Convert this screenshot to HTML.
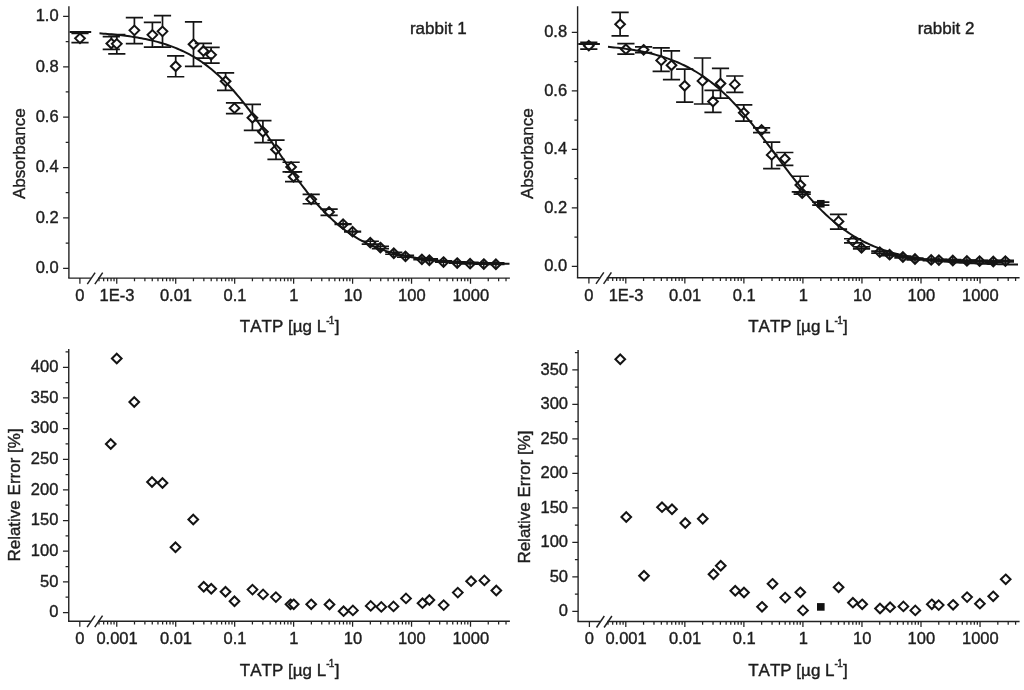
<!DOCTYPE html>
<html><head><meta charset="utf-8"><title>TATP ELISA calibration</title>
<style>
html,body{margin:0;padding:0;background:#fff;}
body{width:1024px;height:690px;overflow:hidden;}
svg{display:block;}
svg text{font-family:"Liberation Sans", sans-serif;fill:#1e1e1e;font-kerning:none;stroke:#1e1e1e;stroke-width:0.4px;}
#blur{filter:blur(0.5px);}
</style></head>
<body>
<svg width="1024" height="690" viewBox="0 0 1024 690">
<rect width="1024" height="690" fill="#fff"/>
<g id="blur">
<!-- panel 1 -->
<path d="M68.90 6.30V278.10" stroke="#222" stroke-width="1.4" fill="none"/>
<path d="M68.20 278.10H90.90M98.10 278.10H509.90" stroke="#222" stroke-width="1.4" fill="none"/>
<path d="M87.30 284.10L95.10 272.60" stroke="#222" stroke-width="1.5" fill="none"/>
<path d="M94.90 284.10L102.70 272.60" stroke="#222" stroke-width="1.5" fill="none"/>
<path d="M63.10 268.30H68.90M63.10 217.92H68.90M63.10 167.54H68.90M63.10 117.16H68.90M63.10 66.78H68.90M63.10 16.40H68.90M65.70 243.11H68.90M65.70 192.73H68.90M65.70 142.35H68.90M65.70 91.97H68.90M65.70 41.59H68.90M79.90 278.10v5.6M99.00 278.10v3.2M103.67 278.10v3.2M107.62 278.10v3.2M111.04 278.10v3.2M114.05 278.10v3.2M116.75 278.10v5.6M134.50 278.10v3.2M144.88 278.10v3.2M152.25 278.10v3.2M157.96 278.10v3.2M162.63 278.10v3.2M166.58 278.10v3.2M170.00 278.10v3.2M173.01 278.10v3.2M175.71 278.10v5.6M193.46 278.10v3.2M203.84 278.10v3.2M211.21 278.10v3.2M216.92 278.10v3.2M221.59 278.10v3.2M225.54 278.10v3.2M228.96 278.10v3.2M231.97 278.10v3.2M234.67 278.10v5.6M252.42 278.10v3.2M262.80 278.10v3.2M270.17 278.10v3.2M275.88 278.10v3.2M280.55 278.10v3.2M284.50 278.10v3.2M287.92 278.10v3.2M290.93 278.10v3.2M293.63 278.10v5.6M311.38 278.10v3.2M321.76 278.10v3.2M329.13 278.10v3.2M334.84 278.10v3.2M339.51 278.10v3.2M343.46 278.10v3.2M346.88 278.10v3.2M349.89 278.10v3.2M352.59 278.10v5.6M370.34 278.10v3.2M380.72 278.10v3.2M388.09 278.10v3.2M393.80 278.10v3.2M398.47 278.10v3.2M402.42 278.10v3.2M405.84 278.10v3.2M408.85 278.10v3.2M411.55 278.10v5.6M429.30 278.10v3.2M439.68 278.10v3.2M447.05 278.10v3.2M452.76 278.10v3.2M457.43 278.10v3.2M461.38 278.10v3.2M464.80 278.10v3.2M467.81 278.10v3.2M470.51 278.10v5.6M488.26 278.10v3.2M498.64 278.10v3.2M506.01 278.10v3.2" stroke="#222" stroke-width="1.25" fill="none"/>
<text x="79.90" y="301.00" font-size="16.5" text-anchor="middle">0</text>
<text x="117.05" y="301.00" font-size="16.5" text-anchor="middle">1E-3</text>
<text x="176.01" y="301.00" font-size="16.5" text-anchor="middle">0.01</text>
<text x="234.97" y="301.00" font-size="16.5" text-anchor="middle">0.1</text>
<text x="293.93" y="301.00" font-size="16.5" text-anchor="middle">1</text>
<text x="352.89" y="301.00" font-size="16.5" text-anchor="middle">10</text>
<text x="411.85" y="301.00" font-size="16.5" text-anchor="middle">100</text>
<text x="470.81" y="301.00" font-size="16.5" text-anchor="middle">1000</text>
<text x="58.60" y="273.10" font-size="16.5" text-anchor="end">0.0</text>
<text x="58.60" y="222.72" font-size="16.5" text-anchor="end">0.2</text>
<text x="58.60" y="172.34" font-size="16.5" text-anchor="end">0.4</text>
<text x="58.60" y="121.96" font-size="16.5" text-anchor="end">0.6</text>
<text x="58.60" y="71.58" font-size="16.5" text-anchor="end">0.8</text>
<text x="58.60" y="21.20" font-size="16.5" text-anchor="end">1.0</text>
<text x="24.80" y="153.70" font-size="17" text-anchor="middle" transform="rotate(-90 24.80 153.70)">Absorbance</text>
<text x="289.60" y="332.35" font-size="17" text-anchor="middle">TATP [µg L<tspan font-size="10" dy="-8.6" letter-spacing="-0.6">-1</tspan><tspan dy="8.6" dx="0.8">]</tspan></text>
<text x="438.30" y="34.30" font-size="17" text-anchor="middle">rabbit 1</text>
<path d="M80.00 33.45V42.65" fill="none" stroke="#141414" stroke-width="1.7"/>
<path d="M111.30 36.65V49.35" fill="none" stroke="#141414" stroke-width="1.7"/>
<path d="M116.80 34.65V53.85" fill="none" stroke="#141414" stroke-width="1.7"/>
<path d="M134.40 17.65V43.55" fill="none" stroke="#141414" stroke-width="1.7"/>
<path d="M152.40 22.35V47.05" fill="none" stroke="#141414" stroke-width="1.7"/>
<path d="M162.50 15.55V47.05" fill="none" stroke="#141414" stroke-width="1.7"/>
<path d="M175.70 55.85V76.75" fill="none" stroke="#141414" stroke-width="1.7"/>
<path d="M193.50 21.95V66.35" fill="none" stroke="#141414" stroke-width="1.7"/>
<path d="M203.40 43.45V58.15" fill="none" stroke="#141414" stroke-width="1.7"/>
<path d="M211.10 47.45V63.05" fill="none" stroke="#141414" stroke-width="1.7"/>
<path d="M225.60 72.85V90.45" fill="none" stroke="#141414" stroke-width="1.7"/>
<path d="M234.50 102.85V113.65" fill="none" stroke="#141414" stroke-width="1.7"/>
<path d="M252.40 104.35V130.45" fill="none" stroke="#141414" stroke-width="1.7"/>
<path d="M262.90 120.55V142.65" fill="none" stroke="#141414" stroke-width="1.7"/>
<path d="M276.00 140.15V159.35" fill="none" stroke="#141414" stroke-width="1.7"/>
<path d="M291.10 162.25V171.85" fill="none" stroke="#141414" stroke-width="1.7"/>
<path d="M293.60 171.85V181.65" fill="none" stroke="#141414" stroke-width="1.7"/>
<path d="M311.20 194.35V203.75" fill="none" stroke="#141414" stroke-width="1.7"/>
<path d="M329.10 209.15V215.35" fill="none" stroke="#141414" stroke-width="1.7"/>
<path d="M343.10 223.85V224.45" fill="none" stroke="#141414" stroke-width="1.7"/>
<path d="M352.60 231.35V231.95" fill="none" stroke="#141414" stroke-width="1.7"/>
<path d="M370.30 241.25V244.05" fill="none" stroke="#141414" stroke-width="1.7"/>
<path d="M380.40 246.35V248.75" fill="none" stroke="#141414" stroke-width="1.7"/>
<path d="M393.80 252.25V254.25" fill="none" stroke="#141414" stroke-width="1.7"/>
<path d="M405.50 255.45V257.25" fill="none" stroke="#141414" stroke-width="1.7"/>
<path d="M421.90 258.15V259.75" fill="none" stroke="#141414" stroke-width="1.7"/>
<path d="M429.40 258.95V260.55" fill="none" stroke="#141414" stroke-width="1.7"/>
<path d="M443.50 260.75V262.25" fill="none" stroke="#141414" stroke-width="1.7"/>
<path d="M457.20 261.75V263.25" fill="none" stroke="#141414" stroke-width="1.7"/>
<path d="M470.10 262.35V263.85" fill="none" stroke="#141414" stroke-width="1.7"/>
<path d="M483.80 262.75V264.25" fill="none" stroke="#141414" stroke-width="1.7"/>
<path d="M495.90 262.95V264.45" fill="none" stroke="#141414" stroke-width="1.7"/>
<path d="M80.00 33.60L84.85 38.35L80.00 43.10L75.15 38.35Z" fill="#fff" stroke="#141414" stroke-width="2.0" stroke-linejoin="miter"/>
<path d="M111.30 38.80L116.15 43.55L111.30 48.30L106.45 43.55Z" fill="#fff" stroke="#141414" stroke-width="2.0" stroke-linejoin="miter"/>
<path d="M116.80 39.10L121.65 43.85L116.80 48.60L111.95 43.85Z" fill="#fff" stroke="#141414" stroke-width="2.0" stroke-linejoin="miter"/>
<path d="M134.40 25.60L139.25 30.35L134.40 35.10L129.55 30.35Z" fill="#fff" stroke="#141414" stroke-width="2.0" stroke-linejoin="miter"/>
<path d="M152.40 30.10L157.25 34.85L152.40 39.60L147.55 34.85Z" fill="#fff" stroke="#141414" stroke-width="2.0" stroke-linejoin="miter"/>
<path d="M162.50 26.60L167.35 31.35L162.50 36.10L157.65 31.35Z" fill="#fff" stroke="#141414" stroke-width="2.0" stroke-linejoin="miter"/>
<path d="M175.70 61.50L180.55 66.25L175.70 71.00L170.85 66.25Z" fill="#fff" stroke="#141414" stroke-width="2.0" stroke-linejoin="miter"/>
<path d="M193.50 39.50L198.35 44.25L193.50 49.00L188.65 44.25Z" fill="#fff" stroke="#141414" stroke-width="2.0" stroke-linejoin="miter"/>
<path d="M203.40 46.20L208.25 50.95L203.40 55.70L198.55 50.95Z" fill="#fff" stroke="#141414" stroke-width="2.0" stroke-linejoin="miter"/>
<path d="M211.10 50.10L215.95 54.85L211.10 59.60L206.25 54.85Z" fill="#fff" stroke="#141414" stroke-width="2.0" stroke-linejoin="miter"/>
<path d="M225.60 76.50L230.45 81.25L225.60 86.00L220.75 81.25Z" fill="#fff" stroke="#141414" stroke-width="2.0" stroke-linejoin="miter"/>
<path d="M234.50 103.40L239.35 108.15L234.50 112.90L229.65 108.15Z" fill="#fff" stroke="#141414" stroke-width="2.0" stroke-linejoin="miter"/>
<path d="M252.40 113.00L257.25 117.75L252.40 122.50L247.55 117.75Z" fill="#fff" stroke="#141414" stroke-width="2.0" stroke-linejoin="miter"/>
<path d="M262.90 127.00L267.75 131.75L262.90 136.50L258.05 131.75Z" fill="#fff" stroke="#141414" stroke-width="2.0" stroke-linejoin="miter"/>
<path d="M276.00 144.80L280.85 149.55L276.00 154.30L271.15 149.55Z" fill="#fff" stroke="#141414" stroke-width="2.0" stroke-linejoin="miter"/>
<path d="M291.10 162.20L295.95 166.95L291.10 171.70L286.25 166.95Z" fill="#fff" stroke="#141414" stroke-width="2.0" stroke-linejoin="miter"/>
<path d="M293.60 172.00L298.45 176.75L293.60 181.50L288.75 176.75Z" fill="#fff" stroke="#141414" stroke-width="2.0" stroke-linejoin="miter"/>
<path d="M311.20 194.50L316.05 199.25L311.20 204.00L306.35 199.25Z" fill="#fff" stroke="#141414" stroke-width="2.0" stroke-linejoin="miter"/>
<path d="M329.10 207.20L333.95 211.95L329.10 216.70L324.25 211.95Z" fill="#fff" stroke="#141414" stroke-width="2.0" stroke-linejoin="miter"/>
<path d="M343.10 219.40L347.95 224.15L343.10 228.90L338.25 224.15Z" fill="#fff" stroke="#141414" stroke-width="2.0" stroke-linejoin="miter"/>
<path d="M352.60 226.90L357.45 231.65L352.60 236.40L347.75 231.65Z" fill="#fff" stroke="#141414" stroke-width="2.0" stroke-linejoin="miter"/>
<path d="M370.30 237.90L375.15 242.65L370.30 247.40L365.45 242.65Z" fill="#fff" stroke="#141414" stroke-width="2.0" stroke-linejoin="miter"/>
<path d="M380.40 242.80L385.25 247.55L380.40 252.30L375.55 247.55Z" fill="#fff" stroke="#141414" stroke-width="2.0" stroke-linejoin="miter"/>
<path d="M393.80 248.50L398.65 253.25L393.80 258.00L388.95 253.25Z" fill="#fff" stroke="#141414" stroke-width="2.0" stroke-linejoin="miter"/>
<path d="M405.50 251.60L410.35 256.35L405.50 261.10L400.65 256.35Z" fill="#fff" stroke="#141414" stroke-width="2.0" stroke-linejoin="miter"/>
<path d="M421.90 254.60L426.75 259.35L421.90 264.10L417.05 259.35Z" fill="#fff" stroke="#141414" stroke-width="2.0" stroke-linejoin="miter"/>
<path d="M429.40 255.50L434.25 260.25L429.40 265.00L424.55 260.25Z" fill="#fff" stroke="#141414" stroke-width="2.0" stroke-linejoin="miter"/>
<path d="M443.50 257.30L448.35 262.05L443.50 266.80L438.65 262.05Z" fill="#fff" stroke="#141414" stroke-width="2.0" stroke-linejoin="miter"/>
<path d="M457.20 258.30L462.05 263.05L457.20 267.80L452.35 263.05Z" fill="#fff" stroke="#141414" stroke-width="2.0" stroke-linejoin="miter"/>
<path d="M470.10 258.90L474.95 263.65L470.10 268.40L465.25 263.65Z" fill="#fff" stroke="#141414" stroke-width="2.0" stroke-linejoin="miter"/>
<path d="M483.80 259.30L488.65 264.05L483.80 268.80L478.95 264.05Z" fill="#fff" stroke="#141414" stroke-width="2.0" stroke-linejoin="miter"/>
<path d="M495.90 259.50L500.75 264.25L495.90 269.00L491.05 264.25Z" fill="#fff" stroke="#141414" stroke-width="2.0" stroke-linejoin="miter"/>
<path d="M71.40 33.45H88.60M71.40 42.65H88.60" fill="none" stroke="#141414" stroke-width="1.7"/>
<path d="M102.70 36.65H119.90M102.70 49.35H119.90" fill="none" stroke="#141414" stroke-width="1.7"/>
<path d="M108.20 34.65H125.40M108.20 53.85H125.40" fill="none" stroke="#141414" stroke-width="1.7"/>
<path d="M125.80 17.65H143.00M125.80 43.55H143.00" fill="none" stroke="#141414" stroke-width="1.7"/>
<path d="M143.80 22.35H161.00M143.80 47.05H161.00" fill="none" stroke="#141414" stroke-width="1.7"/>
<path d="M153.90 15.55H171.10M153.90 47.05H171.10" fill="none" stroke="#141414" stroke-width="1.7"/>
<path d="M167.10 55.85H184.30M167.10 76.75H184.30" fill="none" stroke="#141414" stroke-width="1.7"/>
<path d="M184.90 21.95H202.10M184.90 66.35H202.10" fill="none" stroke="#141414" stroke-width="1.7"/>
<path d="M194.80 43.45H212.00M194.80 58.15H212.00" fill="none" stroke="#141414" stroke-width="1.7"/>
<path d="M202.50 47.45H219.70M202.50 63.05H219.70" fill="none" stroke="#141414" stroke-width="1.7"/>
<path d="M217.00 72.85H234.20M217.00 90.45H234.20" fill="none" stroke="#141414" stroke-width="1.7"/>
<path d="M225.90 102.85H243.10M225.90 113.65H243.10" fill="none" stroke="#141414" stroke-width="1.7"/>
<path d="M243.80 104.35H261.00M243.80 130.45H261.00" fill="none" stroke="#141414" stroke-width="1.7"/>
<path d="M254.30 120.55H271.50M254.30 142.65H271.50" fill="none" stroke="#141414" stroke-width="1.7"/>
<path d="M267.40 140.15H284.60M267.40 159.35H284.60" fill="none" stroke="#141414" stroke-width="1.7"/>
<path d="M282.50 162.25H299.70M282.50 171.85H299.70" fill="none" stroke="#141414" stroke-width="1.7"/>
<path d="M285.00 171.85H302.20M285.00 181.65H302.20" fill="none" stroke="#141414" stroke-width="1.7"/>
<path d="M302.60 194.35H319.80M302.60 203.75H319.80" fill="none" stroke="#141414" stroke-width="1.7"/>
<path d="M320.50 209.15H337.70M320.50 215.35H337.70" fill="none" stroke="#141414" stroke-width="1.7"/>
<path d="M334.50 223.85H351.70M334.50 224.45H351.70" fill="none" stroke="#141414" stroke-width="1.7"/>
<path d="M343.10 219.45V228.85" fill="none" stroke="#141414" stroke-width="1.5"/>
<path d="M344.00 231.35H361.20M344.00 231.95H361.20" fill="none" stroke="#141414" stroke-width="1.7"/>
<path d="M352.60 226.95V236.35" fill="none" stroke="#141414" stroke-width="1.5"/>
<path d="M361.70 241.25H378.90M361.70 244.05H378.90" fill="none" stroke="#141414" stroke-width="1.7"/>
<path d="M370.30 237.95V247.35" fill="none" stroke="#141414" stroke-width="1.5"/>
<path d="M371.80 246.35H389.00M371.80 248.75H389.00" fill="none" stroke="#141414" stroke-width="1.7"/>
<path d="M380.40 242.85V252.25" fill="none" stroke="#141414" stroke-width="1.5"/>
<path d="M385.20 252.25H402.40M385.20 254.25H402.40" fill="none" stroke="#141414" stroke-width="1.7"/>
<path d="M393.80 248.55V257.95" fill="none" stroke="#141414" stroke-width="1.5"/>
<path d="M396.90 255.45H414.10M396.90 257.25H414.10" fill="none" stroke="#141414" stroke-width="1.7"/>
<path d="M405.50 251.65V261.05" fill="none" stroke="#141414" stroke-width="1.5"/>
<path d="M413.30 258.15H430.50M413.30 259.75H430.50" fill="none" stroke="#141414" stroke-width="1.7"/>
<path d="M421.90 254.65V264.05" fill="none" stroke="#141414" stroke-width="1.5"/>
<path d="M420.80 258.95H438.00M420.80 260.55H438.00" fill="none" stroke="#141414" stroke-width="1.7"/>
<path d="M429.40 255.55V264.95" fill="none" stroke="#141414" stroke-width="1.5"/>
<path d="M434.90 260.75H452.10M434.90 262.25H452.10" fill="none" stroke="#141414" stroke-width="1.7"/>
<path d="M443.50 257.35V266.75" fill="none" stroke="#141414" stroke-width="1.5"/>
<path d="M448.60 261.75H465.80M448.60 263.25H465.80" fill="none" stroke="#141414" stroke-width="1.7"/>
<path d="M457.20 258.35V267.75" fill="none" stroke="#141414" stroke-width="1.5"/>
<path d="M461.50 262.35H478.70M461.50 263.85H478.70" fill="none" stroke="#141414" stroke-width="1.7"/>
<path d="M470.10 258.95V268.35" fill="none" stroke="#141414" stroke-width="1.5"/>
<path d="M475.20 262.75H492.40M475.20 264.25H492.40" fill="none" stroke="#141414" stroke-width="1.7"/>
<path d="M483.80 259.35V268.75" fill="none" stroke="#141414" stroke-width="1.5"/>
<path d="M487.30 262.95H504.50M487.30 264.45H504.50" fill="none" stroke="#141414" stroke-width="1.7"/>
<path d="M495.90 259.55V268.95" fill="none" stroke="#141414" stroke-width="1.5"/>
<path d="M99.50 33.37L101.50 33.51L103.50 33.65L105.50 33.80L107.50 33.96L109.50 34.13L111.50 34.31L113.50 34.49L115.50 34.68L117.50 34.89L119.50 35.10L121.50 35.33L123.50 35.56L125.50 35.81L127.50 36.07L129.50 36.34L131.50 36.63L133.50 36.93L135.50 37.24L137.50 37.57L139.50 37.92L141.50 38.28L143.50 38.66L145.50 39.06L147.50 39.48L149.50 39.92L151.50 40.38L153.50 40.86L155.50 41.37L157.50 41.90L159.50 42.45L161.50 43.03L163.50 43.63L165.50 44.27L167.50 44.93L169.50 45.62L171.50 46.35L173.50 47.10L175.50 47.89L177.50 48.72L179.50 49.58L181.50 50.48L183.50 51.41L185.50 52.39L187.50 53.41L189.50 54.47L191.50 55.57L193.50 56.72L195.50 57.92L197.50 59.16L199.50 60.45L201.50 61.79L203.50 63.18L205.50 64.63L207.50 66.12L209.50 67.67L211.50 69.28L213.50 70.94L215.50 72.66L217.50 74.43L219.50 76.26L221.50 78.15L223.50 80.09L225.50 82.09L227.50 84.16L229.50 86.27L231.50 88.45L233.50 90.68L235.50 92.97L237.50 95.31L239.50 97.70L241.50 100.15L243.50 102.65L245.50 105.20L247.50 107.79L249.50 110.43L251.50 113.12L253.50 115.84L255.50 118.60L257.50 121.40L259.50 124.22L261.50 127.08L263.50 129.96L265.50 132.87L267.50 135.79L269.50 138.73L271.50 141.68L273.50 144.63L275.50 147.59L277.50 150.55L279.50 153.51L281.50 156.46L283.50 159.39L285.50 162.31L287.50 165.22L289.50 168.10L291.50 170.95L293.50 173.78L295.50 176.58L297.50 179.34L299.50 182.06L301.50 184.74L303.50 187.38L305.50 189.97L307.50 192.52L309.50 195.01L311.50 197.46L313.50 199.85L315.50 202.19L317.50 204.48L319.50 206.71L321.50 208.88L323.50 211.00L325.50 213.06L327.50 215.06L329.50 217.00L331.50 218.88L333.50 220.71L335.50 222.48L337.50 224.20L339.50 225.86L341.50 227.46L343.50 229.01L345.50 230.50L347.50 231.94L349.50 233.33L351.50 234.67L353.50 235.96L355.50 237.20L357.50 238.40L359.50 239.54L361.50 240.65L363.50 241.71L365.50 242.72L367.50 243.70L369.50 244.63L371.50 245.53L373.50 246.39L375.50 247.21L377.50 248.00L379.50 248.76L381.50 249.48L383.50 250.17L385.50 250.83L387.50 251.47L389.50 252.07L391.50 252.65L393.50 253.20L395.50 253.73L397.50 254.23L399.50 254.71L401.50 255.17L403.50 255.61L405.50 256.03L407.50 256.43L409.50 256.81L411.50 257.17L413.50 257.52L415.50 257.85L417.50 258.16L419.50 258.46L421.50 258.75L423.50 259.02L425.50 259.28L427.50 259.52L429.50 259.76L431.50 259.98L433.50 260.20L435.50 260.40L437.50 260.59L439.50 260.78L441.50 260.95L443.50 261.12L445.50 261.28L447.50 261.43L449.50 261.58L451.50 261.71L453.50 261.84L455.50 261.97L457.50 262.09L459.50 262.20L461.50 262.31L463.50 262.41L465.50 262.50L467.50 262.60L469.50 262.68L471.50 262.77L473.50 262.85L475.50 262.92L477.50 262.99L479.50 263.06L481.50 263.13L483.50 263.19L485.50 263.25L487.50 263.30L489.50 263.36L491.50 263.41L493.50 263.46L495.50 263.50L497.50 263.54L499.50 263.59L501.50 263.62L503.50 263.66L505.50 263.70L507.50 263.73L509.50 263.76M69.60 31.90H91.20" fill="none" stroke="#141414" stroke-width="2" stroke-linecap="butt" stroke-linejoin="round"/>
<!-- panel 2 -->
<path d="M577.60 6.30V277.80" stroke="#222" stroke-width="1.4" fill="none"/>
<path d="M576.90 277.80H599.60M606.80 277.80H1019.60" stroke="#222" stroke-width="1.4" fill="none"/>
<path d="M596.00 283.80L603.80 272.30" stroke="#222" stroke-width="1.5" fill="none"/>
<path d="M603.60 283.80L611.40 272.30" stroke="#222" stroke-width="1.5" fill="none"/>
<path d="M571.80 266.40H577.60M571.80 207.90H577.60M571.80 149.40H577.60M571.80 90.90H577.60M571.80 32.40H577.60M574.40 237.15H577.60M574.40 178.65H577.60M574.40 120.15H577.60M574.40 61.65H577.60M588.90 277.80v5.6M608.03 277.80v3.2M612.70 277.80v3.2M616.65 277.80v3.2M620.08 277.80v3.2M623.10 277.80v3.2M625.80 277.80v5.6M643.57 277.80v3.2M653.97 277.80v3.2M661.35 277.80v3.2M667.07 277.80v3.2M671.74 277.80v3.2M675.69 277.80v3.2M679.12 277.80v3.2M682.14 277.80v3.2M684.84 277.80v5.6M702.61 277.80v3.2M713.01 277.80v3.2M720.39 277.80v3.2M726.11 277.80v3.2M730.78 277.80v3.2M734.73 277.80v3.2M738.16 277.80v3.2M741.18 277.80v3.2M743.88 277.80v5.6M761.65 277.80v3.2M772.05 277.80v3.2M779.43 277.80v3.2M785.15 277.80v3.2M789.82 277.80v3.2M793.77 277.80v3.2M797.20 277.80v3.2M800.22 277.80v3.2M802.92 277.80v5.6M820.69 277.80v3.2M831.09 277.80v3.2M838.47 277.80v3.2M844.19 277.80v3.2M848.86 277.80v3.2M852.81 277.80v3.2M856.24 277.80v3.2M859.26 277.80v3.2M861.96 277.80v5.6M879.73 277.80v3.2M890.13 277.80v3.2M897.51 277.80v3.2M903.23 277.80v3.2M907.90 277.80v3.2M911.85 277.80v3.2M915.28 277.80v3.2M918.30 277.80v3.2M921.00 277.80v5.6M938.77 277.80v3.2M949.17 277.80v3.2M956.55 277.80v3.2M962.27 277.80v3.2M966.94 277.80v3.2M970.89 277.80v3.2M974.32 277.80v3.2M977.34 277.80v3.2M980.04 277.80v5.6M997.81 277.80v3.2M1008.21 277.80v3.2M1015.59 277.80v3.2" stroke="#222" stroke-width="1.25" fill="none"/>
<text x="588.90" y="300.70" font-size="16.5" text-anchor="middle">0</text>
<text x="626.10" y="300.70" font-size="16.5" text-anchor="middle">1E-3</text>
<text x="685.14" y="300.70" font-size="16.5" text-anchor="middle">0.01</text>
<text x="744.18" y="300.70" font-size="16.5" text-anchor="middle">0.1</text>
<text x="803.22" y="300.70" font-size="16.5" text-anchor="middle">1</text>
<text x="862.26" y="300.70" font-size="16.5" text-anchor="middle">10</text>
<text x="921.30" y="300.70" font-size="16.5" text-anchor="middle">100</text>
<text x="980.34" y="300.70" font-size="16.5" text-anchor="middle">1000</text>
<text x="567.10" y="271.20" font-size="16.5" text-anchor="end">0.0</text>
<text x="567.10" y="212.70" font-size="16.5" text-anchor="end">0.2</text>
<text x="567.10" y="154.20" font-size="16.5" text-anchor="end">0.4</text>
<text x="567.10" y="95.70" font-size="16.5" text-anchor="end">0.6</text>
<text x="567.10" y="37.20" font-size="16.5" text-anchor="end">0.8</text>
<text x="533.40" y="153.70" font-size="17" text-anchor="middle" transform="rotate(-90 533.40 153.70)">Absorbance</text>
<text x="798.00" y="332.35" font-size="17" text-anchor="middle">TATP [µg L<tspan font-size="10" dy="-8.6" letter-spacing="-0.6">-1</tspan><tspan dy="8.6" dx="0.8">]</tspan></text>
<text x="946.00" y="34.30" font-size="17" text-anchor="middle">rabbit 2</text>
<path d="M588.80 42.40V49.20" fill="none" stroke="#141414" stroke-width="1.7"/>
<path d="M620.10 12.40V35.90" fill="none" stroke="#141414" stroke-width="1.7"/>
<path d="M625.90 43.70V54.10" fill="none" stroke="#141414" stroke-width="1.7"/>
<path d="M643.60 46.90V52.70" fill="none" stroke="#141414" stroke-width="1.7"/>
<path d="M661.20 47.90V71.30" fill="none" stroke="#141414" stroke-width="1.7"/>
<path d="M671.50 50.80V79.60" fill="none" stroke="#141414" stroke-width="1.7"/>
<path d="M684.70 69.20V102.10" fill="none" stroke="#141414" stroke-width="1.7"/>
<path d="M702.50 58.00V104.00" fill="none" stroke="#141414" stroke-width="1.7"/>
<path d="M713.00 90.30V112.40" fill="none" stroke="#141414" stroke-width="1.7"/>
<path d="M720.50 68.40V98.10" fill="none" stroke="#141414" stroke-width="1.7"/>
<path d="M734.80 76.00V92.30" fill="none" stroke="#141414" stroke-width="1.7"/>
<path d="M743.75 104.90V121.10" fill="none" stroke="#141414" stroke-width="1.7"/>
<path d="M761.60 127.90V132.60" fill="none" stroke="#141414" stroke-width="1.7"/>
<path d="M771.70 142.20V168.60" fill="none" stroke="#141414" stroke-width="1.7"/>
<path d="M784.80 152.50V165.30" fill="none" stroke="#141414" stroke-width="1.7"/>
<path d="M800.30 176.25V191.90" fill="none" stroke="#141414" stroke-width="1.7"/>
<path d="M802.20 192.20V194.20" fill="none" stroke="#141414" stroke-width="1.7"/>
<path d="M820.80 202.10V205.10" fill="none" stroke="#141414" stroke-width="1.7"/>
<path d="M838.50 214.40V229.10" fill="none" stroke="#141414" stroke-width="1.7"/>
<path d="M852.60 238.75V242.90" fill="none" stroke="#141414" stroke-width="1.7"/>
<path d="M861.50 246.80V248.90" fill="none" stroke="#141414" stroke-width="1.7"/>
<path d="M879.80 251.10V253.10" fill="none" stroke="#141414" stroke-width="1.7"/>
<path d="M889.60 253.80V255.60" fill="none" stroke="#141414" stroke-width="1.7"/>
<path d="M902.90 256.20V257.80" fill="none" stroke="#141414" stroke-width="1.7"/>
<path d="M915.00 258.20V259.80" fill="none" stroke="#141414" stroke-width="1.7"/>
<path d="M931.20 259.10V260.70" fill="none" stroke="#141414" stroke-width="1.7"/>
<path d="M938.90 259.30V260.90" fill="none" stroke="#141414" stroke-width="1.7"/>
<path d="M952.80 259.70V261.30" fill="none" stroke="#141414" stroke-width="1.7"/>
<path d="M966.90 260.10V261.70" fill="none" stroke="#141414" stroke-width="1.7"/>
<path d="M979.60 260.30V261.90" fill="none" stroke="#141414" stroke-width="1.7"/>
<path d="M993.30 260.70V262.30" fill="none" stroke="#141414" stroke-width="1.7"/>
<path d="M1005.40 260.30V261.90" fill="none" stroke="#141414" stroke-width="1.7"/>
<path d="M588.80 40.95L593.65 45.70L588.80 50.45L583.95 45.70Z" fill="#fff" stroke="#141414" stroke-width="2.0" stroke-linejoin="miter"/>
<path d="M620.10 19.45L624.95 24.20L620.10 28.95L615.25 24.20Z" fill="#fff" stroke="#141414" stroke-width="2.0" stroke-linejoin="miter"/>
<path d="M625.90 44.45L630.75 49.20L625.90 53.95L621.05 49.20Z" fill="#fff" stroke="#141414" stroke-width="2.0" stroke-linejoin="miter"/>
<path d="M643.60 45.05L648.45 49.80L643.60 54.55L638.75 49.80Z" fill="#fff" stroke="#141414" stroke-width="2.0" stroke-linejoin="miter"/>
<path d="M661.20 55.65L666.05 60.40L661.20 65.15L656.35 60.40Z" fill="#fff" stroke="#141414" stroke-width="2.0" stroke-linejoin="miter"/>
<path d="M671.50 60.55L676.35 65.30L671.50 70.05L666.65 65.30Z" fill="#fff" stroke="#141414" stroke-width="2.0" stroke-linejoin="miter"/>
<path d="M684.70 81.05L689.55 85.80L684.70 90.55L679.85 85.80Z" fill="#fff" stroke="#141414" stroke-width="2.0" stroke-linejoin="miter"/>
<path d="M702.50 76.15L707.35 80.90L702.50 85.65L697.65 80.90Z" fill="#fff" stroke="#141414" stroke-width="2.0" stroke-linejoin="miter"/>
<path d="M713.00 96.75L717.85 101.50L713.00 106.25L708.15 101.50Z" fill="#fff" stroke="#141414" stroke-width="2.0" stroke-linejoin="miter"/>
<path d="M720.50 78.75L725.35 83.50L720.50 88.25L715.65 83.50Z" fill="#fff" stroke="#141414" stroke-width="2.0" stroke-linejoin="miter"/>
<path d="M734.80 79.65L739.65 84.40L734.80 89.15L729.95 84.40Z" fill="#fff" stroke="#141414" stroke-width="2.0" stroke-linejoin="miter"/>
<path d="M743.75 108.05L748.60 112.80L743.75 117.55L738.90 112.80Z" fill="#fff" stroke="#141414" stroke-width="2.0" stroke-linejoin="miter"/>
<path d="M761.60 125.25L766.45 130.00L761.60 134.75L756.75 130.00Z" fill="#fff" stroke="#141414" stroke-width="2.0" stroke-linejoin="miter"/>
<path d="M771.70 150.15L776.55 154.90L771.70 159.65L766.85 154.90Z" fill="#fff" stroke="#141414" stroke-width="2.0" stroke-linejoin="miter"/>
<path d="M784.80 154.05L789.65 158.80L784.80 163.55L779.95 158.80Z" fill="#fff" stroke="#141414" stroke-width="2.0" stroke-linejoin="miter"/>
<path d="M800.30 180.25L805.15 185.00L800.30 189.75L795.45 185.00Z" fill="#fff" stroke="#141414" stroke-width="2.0" stroke-linejoin="miter"/>
<path d="M802.20 188.45L807.05 193.20L802.20 197.95L797.35 193.20Z" fill="#fff" stroke="#141414" stroke-width="2.0" stroke-linejoin="miter"/>
<rect x="817.00" y="199.95" width="7.6" height="7.6" fill="#111"/>
<path d="M838.50 216.65L843.35 221.40L838.50 226.15L833.65 221.40Z" fill="#fff" stroke="#141414" stroke-width="2.0" stroke-linejoin="miter"/>
<path d="M852.60 236.05L857.45 240.80L852.60 245.55L847.75 240.80Z" fill="#fff" stroke="#141414" stroke-width="2.0" stroke-linejoin="miter"/>
<path d="M861.50 243.05L866.35 247.80L861.50 252.55L856.65 247.80Z" fill="#fff" stroke="#141414" stroke-width="2.0" stroke-linejoin="miter"/>
<path d="M879.80 247.35L884.65 252.10L879.80 256.85L874.95 252.10Z" fill="#fff" stroke="#141414" stroke-width="2.0" stroke-linejoin="miter"/>
<path d="M889.60 249.95L894.45 254.70L889.60 259.45L884.75 254.70Z" fill="#fff" stroke="#141414" stroke-width="2.0" stroke-linejoin="miter"/>
<path d="M902.90 252.25L907.75 257.00L902.90 261.75L898.05 257.00Z" fill="#fff" stroke="#141414" stroke-width="2.0" stroke-linejoin="miter"/>
<path d="M915.00 254.25L919.85 259.00L915.00 263.75L910.15 259.00Z" fill="#fff" stroke="#141414" stroke-width="2.0" stroke-linejoin="miter"/>
<path d="M931.20 255.15L936.05 259.90L931.20 264.65L926.35 259.90Z" fill="#fff" stroke="#141414" stroke-width="2.0" stroke-linejoin="miter"/>
<path d="M938.90 255.35L943.75 260.10L938.90 264.85L934.05 260.10Z" fill="#fff" stroke="#141414" stroke-width="2.0" stroke-linejoin="miter"/>
<path d="M952.80 255.75L957.65 260.50L952.80 265.25L947.95 260.50Z" fill="#fff" stroke="#141414" stroke-width="2.0" stroke-linejoin="miter"/>
<path d="M966.90 256.15L971.75 260.90L966.90 265.65L962.05 260.90Z" fill="#fff" stroke="#141414" stroke-width="2.0" stroke-linejoin="miter"/>
<path d="M979.60 256.35L984.45 261.10L979.60 265.85L974.75 261.10Z" fill="#fff" stroke="#141414" stroke-width="2.0" stroke-linejoin="miter"/>
<path d="M993.30 256.75L998.15 261.50L993.30 266.25L988.45 261.50Z" fill="#fff" stroke="#141414" stroke-width="2.0" stroke-linejoin="miter"/>
<path d="M1005.40 256.35L1010.25 261.10L1005.40 265.85L1000.55 261.10Z" fill="#fff" stroke="#141414" stroke-width="2.0" stroke-linejoin="miter"/>
<path d="M580.20 42.40H597.40M580.20 49.20H597.40" fill="none" stroke="#141414" stroke-width="1.7"/>
<path d="M611.50 12.40H628.70M611.50 35.90H628.70" fill="none" stroke="#141414" stroke-width="1.7"/>
<path d="M617.30 43.70H634.50M617.30 54.10H634.50" fill="none" stroke="#141414" stroke-width="1.7"/>
<path d="M635.00 46.90H652.20M635.00 52.70H652.20" fill="none" stroke="#141414" stroke-width="1.7"/>
<path d="M652.60 47.90H669.80M652.60 71.30H669.80" fill="none" stroke="#141414" stroke-width="1.7"/>
<path d="M662.90 50.80H680.10M662.90 79.60H680.10" fill="none" stroke="#141414" stroke-width="1.7"/>
<path d="M676.10 69.20H693.30M676.10 102.10H693.30" fill="none" stroke="#141414" stroke-width="1.7"/>
<path d="M693.90 58.00H711.10M693.90 104.00H711.10" fill="none" stroke="#141414" stroke-width="1.7"/>
<path d="M704.40 90.30H721.60M704.40 112.40H721.60" fill="none" stroke="#141414" stroke-width="1.7"/>
<path d="M711.90 68.40H729.10M711.90 98.10H729.10" fill="none" stroke="#141414" stroke-width="1.7"/>
<path d="M726.20 76.00H743.40M726.20 92.30H743.40" fill="none" stroke="#141414" stroke-width="1.7"/>
<path d="M735.15 104.90H752.35M735.15 121.10H752.35" fill="none" stroke="#141414" stroke-width="1.7"/>
<path d="M753.00 127.90H770.20M753.00 132.60H770.20" fill="none" stroke="#141414" stroke-width="1.7"/>
<path d="M763.10 142.20H780.30M763.10 168.60H780.30" fill="none" stroke="#141414" stroke-width="1.7"/>
<path d="M776.20 152.50H793.40M776.20 165.30H793.40" fill="none" stroke="#141414" stroke-width="1.7"/>
<path d="M791.70 176.25H808.90M791.70 191.90H808.90" fill="none" stroke="#141414" stroke-width="1.7"/>
<path d="M793.60 192.20H810.80M793.60 194.20H810.80" fill="none" stroke="#141414" stroke-width="1.7"/>
<path d="M802.20 188.50V197.90" fill="none" stroke="#141414" stroke-width="1.5"/>
<path d="M812.20 202.10H829.40M812.20 205.10H829.40" fill="none" stroke="#141414" stroke-width="1.7"/>
<path d="M829.90 214.40H847.10M829.90 229.10H847.10" fill="none" stroke="#141414" stroke-width="1.7"/>
<path d="M844.00 238.75H861.20M844.00 242.90H861.20" fill="none" stroke="#141414" stroke-width="1.7"/>
<path d="M852.90 246.80H870.10M852.90 248.90H870.10" fill="none" stroke="#141414" stroke-width="1.7"/>
<path d="M861.50 243.10V252.50" fill="none" stroke="#141414" stroke-width="1.5"/>
<path d="M871.20 251.10H888.40M871.20 253.10H888.40" fill="none" stroke="#141414" stroke-width="1.7"/>
<path d="M879.80 247.40V256.80" fill="none" stroke="#141414" stroke-width="1.5"/>
<path d="M881.00 253.80H898.20M881.00 255.60H898.20" fill="none" stroke="#141414" stroke-width="1.7"/>
<path d="M889.60 250.00V259.40" fill="none" stroke="#141414" stroke-width="1.5"/>
<path d="M894.30 256.20H911.50M894.30 257.80H911.50" fill="none" stroke="#141414" stroke-width="1.7"/>
<path d="M902.90 252.30V261.70" fill="none" stroke="#141414" stroke-width="1.5"/>
<path d="M906.40 258.20H923.60M906.40 259.80H923.60" fill="none" stroke="#141414" stroke-width="1.7"/>
<path d="M915.00 254.30V263.70" fill="none" stroke="#141414" stroke-width="1.5"/>
<path d="M922.60 259.10H939.80M922.60 260.70H939.80" fill="none" stroke="#141414" stroke-width="1.7"/>
<path d="M931.20 255.20V264.60" fill="none" stroke="#141414" stroke-width="1.5"/>
<path d="M930.30 259.30H947.50M930.30 260.90H947.50" fill="none" stroke="#141414" stroke-width="1.7"/>
<path d="M938.90 255.40V264.80" fill="none" stroke="#141414" stroke-width="1.5"/>
<path d="M944.20 259.70H961.40M944.20 261.30H961.40" fill="none" stroke="#141414" stroke-width="1.7"/>
<path d="M952.80 255.80V265.20" fill="none" stroke="#141414" stroke-width="1.5"/>
<path d="M958.30 260.10H975.50M958.30 261.70H975.50" fill="none" stroke="#141414" stroke-width="1.7"/>
<path d="M966.90 256.20V265.60" fill="none" stroke="#141414" stroke-width="1.5"/>
<path d="M971.00 260.30H988.20M971.00 261.90H988.20" fill="none" stroke="#141414" stroke-width="1.7"/>
<path d="M979.60 256.40V265.80" fill="none" stroke="#141414" stroke-width="1.5"/>
<path d="M984.70 260.70H1001.90M984.70 262.30H1001.90" fill="none" stroke="#141414" stroke-width="1.7"/>
<path d="M993.30 256.80V266.20" fill="none" stroke="#141414" stroke-width="1.5"/>
<path d="M996.80 260.30H1014.00M996.80 261.90H1014.00" fill="none" stroke="#141414" stroke-width="1.7"/>
<path d="M1005.40 256.40V265.80" fill="none" stroke="#141414" stroke-width="1.5"/>
<path d="M608.00 46.80L610.00 46.99L612.00 47.19L614.00 47.40L616.00 47.62L618.00 47.85L620.00 48.08L622.00 48.34L624.00 48.60L626.00 48.87L628.00 49.16L630.00 49.46L632.00 49.77L634.00 50.10L636.00 50.45L638.00 50.81L640.00 51.18L642.00 51.58L644.00 51.99L646.00 52.42L648.00 52.87L650.00 53.34L652.00 53.83L654.00 54.34L656.00 54.87L658.00 55.43L660.00 56.02L662.00 56.62L664.00 57.26L666.00 57.92L668.00 58.61L670.00 59.32L672.00 60.07L674.00 60.85L676.00 61.66L678.00 62.51L680.00 63.38L682.00 64.30L684.00 65.25L686.00 66.23L688.00 67.26L690.00 68.32L692.00 69.43L694.00 70.57L696.00 71.76L698.00 72.99L700.00 74.27L702.00 75.58L704.00 76.95L706.00 78.36L708.00 79.82L710.00 81.32L712.00 82.88L714.00 84.48L716.00 86.13L718.00 87.83L720.00 89.58L722.00 91.38L724.00 93.23L726.00 95.13L728.00 97.08L730.00 99.07L732.00 101.11L734.00 103.21L736.00 105.34L738.00 107.53L740.00 109.75L742.00 112.02L744.00 114.34L746.00 116.69L748.00 119.08L750.00 121.51L752.00 123.97L754.00 126.46L756.00 128.98L758.00 131.54L760.00 134.11L762.00 136.71L764.00 139.33L766.00 141.96L768.00 144.61L770.00 147.27L772.00 149.94L774.00 152.61L776.00 155.28L778.00 157.95L780.00 160.62L782.00 163.28L784.00 165.93L786.00 168.56L788.00 171.18L790.00 173.78L792.00 176.36L794.00 178.91L796.00 181.44L798.00 183.93L800.00 186.40L802.00 188.83L804.00 191.22L806.00 193.58L808.00 195.89L810.00 198.16L812.00 200.40L814.00 202.58L816.00 204.72L818.00 206.82L820.00 208.86L822.00 210.86L824.00 212.81L826.00 214.72L828.00 216.57L830.00 218.37L832.00 220.12L834.00 221.83L836.00 223.48L838.00 225.09L840.00 226.65L842.00 228.15L844.00 229.62L846.00 231.03L848.00 232.40L850.00 233.72L852.00 235.00L854.00 236.23L856.00 237.42L858.00 238.57L860.00 239.68L862.00 240.75L864.00 241.77L866.00 242.76L868.00 243.72L870.00 244.63L872.00 245.51L874.00 246.36L876.00 247.17L878.00 247.95L880.00 248.70L882.00 249.42L884.00 250.11L886.00 250.78L888.00 251.41L890.00 252.02L892.00 252.61L894.00 253.17L896.00 253.70L898.00 254.22L900.00 254.71L902.00 255.18L904.00 255.63L906.00 256.06L908.00 256.47L910.00 256.87L912.00 257.25L914.00 257.61L916.00 257.95L918.00 258.28L920.00 258.60L922.00 258.90L924.00 259.19L926.00 259.46L928.00 259.73L930.00 259.98L932.00 260.22L934.00 260.45L936.00 260.67L938.00 260.87L940.00 261.07L942.00 261.27L944.00 261.45L946.00 261.62L948.00 261.79L950.00 261.95L952.00 262.10L954.00 262.24L956.00 262.38L958.00 262.51L960.00 262.63L962.00 262.75L964.00 262.87L966.00 262.98L968.00 263.08L970.00 263.18L972.00 263.27L974.00 263.36L976.00 263.45L978.00 263.53L980.00 263.61L982.00 263.68L984.00 263.76L986.00 263.82L988.00 263.89L990.00 263.95L992.00 264.01L994.00 264.06L996.00 264.12L998.00 264.17L1000.00 264.22L1002.00 264.26L1004.00 264.31L1006.00 264.35L1008.00 264.39L1010.00 264.43L1012.00 264.47L1014.00 264.50L1016.00 264.53L1018.00 264.56M578.30 43.90H599.90" fill="none" stroke="#141414" stroke-width="2" stroke-linecap="butt" stroke-linejoin="round"/>
<!-- panel 3 -->
<path d="M68.75 349.00V621.20" stroke="#222" stroke-width="1.4" fill="none"/>
<path d="M68.05 621.20H90.75M97.95 621.20H509.90" stroke="#222" stroke-width="1.4" fill="none"/>
<path d="M87.15 627.20L94.95 615.70" stroke="#222" stroke-width="1.5" fill="none"/>
<path d="M94.75 627.20L102.55 615.70" stroke="#222" stroke-width="1.5" fill="none"/>
<path d="M62.95 612.50H68.75M62.95 581.85H68.75M62.95 551.20H68.75M62.95 520.55H68.75M62.95 489.90H68.75M62.95 459.25H68.75M62.95 428.60H68.75M62.95 397.95H68.75M62.95 367.30H68.75M65.55 597.17H68.75M65.55 566.52H68.75M65.55 535.88H68.75M65.55 505.23H68.75M65.55 474.57H68.75M65.55 443.93H68.75M65.55 413.27H68.75M65.55 382.62H68.75M65.55 351.98H68.75M79.80 621.20v5.6M99.00 621.20v3.2M103.67 621.20v3.2M107.62 621.20v3.2M111.04 621.20v3.2M114.05 621.20v3.2M116.75 621.20v5.6M134.50 621.20v3.2M144.88 621.20v3.2M152.25 621.20v3.2M157.96 621.20v3.2M162.63 621.20v3.2M166.58 621.20v3.2M170.00 621.20v3.2M173.01 621.20v3.2M175.71 621.20v5.6M193.46 621.20v3.2M203.84 621.20v3.2M211.21 621.20v3.2M216.92 621.20v3.2M221.59 621.20v3.2M225.54 621.20v3.2M228.96 621.20v3.2M231.97 621.20v3.2M234.67 621.20v5.6M252.42 621.20v3.2M262.80 621.20v3.2M270.17 621.20v3.2M275.88 621.20v3.2M280.55 621.20v3.2M284.50 621.20v3.2M287.92 621.20v3.2M290.93 621.20v3.2M293.63 621.20v5.6M311.38 621.20v3.2M321.76 621.20v3.2M329.13 621.20v3.2M334.84 621.20v3.2M339.51 621.20v3.2M343.46 621.20v3.2M346.88 621.20v3.2M349.89 621.20v3.2M352.59 621.20v5.6M370.34 621.20v3.2M380.72 621.20v3.2M388.09 621.20v3.2M393.80 621.20v3.2M398.47 621.20v3.2M402.42 621.20v3.2M405.84 621.20v3.2M408.85 621.20v3.2M411.55 621.20v5.6M429.30 621.20v3.2M439.68 621.20v3.2M447.05 621.20v3.2M452.76 621.20v3.2M457.43 621.20v3.2M461.38 621.20v3.2M464.80 621.20v3.2M467.81 621.20v3.2M470.51 621.20v5.6M488.26 621.20v3.2M498.64 621.20v3.2M506.01 621.20v3.2" stroke="#222" stroke-width="1.25" fill="none"/>
<text x="79.80" y="644.10" font-size="16.5" text-anchor="middle">0</text>
<text x="117.05" y="644.10" font-size="16.5" text-anchor="middle">0.001</text>
<text x="176.01" y="644.10" font-size="16.5" text-anchor="middle">0.01</text>
<text x="234.97" y="644.10" font-size="16.5" text-anchor="middle">0.1</text>
<text x="293.93" y="644.10" font-size="16.5" text-anchor="middle">1</text>
<text x="352.89" y="644.10" font-size="16.5" text-anchor="middle">10</text>
<text x="411.85" y="644.10" font-size="16.5" text-anchor="middle">100</text>
<text x="470.81" y="644.10" font-size="16.5" text-anchor="middle">1000</text>
<text x="58.40" y="617.30" font-size="16.5" text-anchor="end">0</text>
<text x="58.40" y="586.65" font-size="16.5" text-anchor="end">50</text>
<text x="58.40" y="556.00" font-size="16.5" text-anchor="end">100</text>
<text x="58.40" y="525.35" font-size="16.5" text-anchor="end">150</text>
<text x="58.40" y="494.70" font-size="16.5" text-anchor="end">200</text>
<text x="58.40" y="464.05" font-size="16.5" text-anchor="end">250</text>
<text x="58.40" y="433.40" font-size="16.5" text-anchor="end">300</text>
<text x="58.40" y="402.75" font-size="16.5" text-anchor="end">350</text>
<text x="58.40" y="372.10" font-size="16.5" text-anchor="end">400</text>
<text x="19.60" y="495.00" font-size="17" text-anchor="middle" transform="rotate(-90 19.60 495.00)">Relative Error [%]</text>
<text x="289.60" y="675.60" font-size="17" text-anchor="middle">TATP [µg L<tspan font-size="10" dy="-8.6" letter-spacing="-0.6">-1</tspan><tspan dy="8.6" dx="0.8">]</tspan></text>
<path d="M116.75 353.75L121.60 358.50L116.75 363.25L111.90 358.50Z" fill="#fff" stroke="#141414" stroke-width="2.0" stroke-linejoin="miter"/>
<path d="M134.25 397.25L139.10 402.00L134.25 406.75L129.40 402.00Z" fill="#fff" stroke="#141414" stroke-width="2.0" stroke-linejoin="miter"/>
<path d="M110.75 439.25L115.60 444.00L110.75 448.75L105.90 444.00Z" fill="#fff" stroke="#141414" stroke-width="2.0" stroke-linejoin="miter"/>
<path d="M152.00 477.25L156.85 482.00L152.00 486.75L147.15 482.00Z" fill="#fff" stroke="#141414" stroke-width="2.0" stroke-linejoin="miter"/>
<path d="M162.50 478.25L167.35 483.00L162.50 487.75L157.65 483.00Z" fill="#fff" stroke="#141414" stroke-width="2.0" stroke-linejoin="miter"/>
<path d="M175.50 542.50L180.35 547.25L175.50 552.00L170.65 547.25Z" fill="#fff" stroke="#141414" stroke-width="2.0" stroke-linejoin="miter"/>
<path d="M193.25 514.75L198.10 519.50L193.25 524.25L188.40 519.50Z" fill="#fff" stroke="#141414" stroke-width="2.0" stroke-linejoin="miter"/>
<path d="M203.75 582.00L208.60 586.75L203.75 591.50L198.90 586.75Z" fill="#fff" stroke="#141414" stroke-width="2.0" stroke-linejoin="miter"/>
<path d="M211.25 584.00L216.10 588.75L211.25 593.50L206.40 588.75Z" fill="#fff" stroke="#141414" stroke-width="2.0" stroke-linejoin="miter"/>
<path d="M225.50 587.00L230.35 591.75L225.50 596.50L220.65 591.75Z" fill="#fff" stroke="#141414" stroke-width="2.0" stroke-linejoin="miter"/>
<path d="M234.50 596.50L239.35 601.25L234.50 606.00L229.65 601.25Z" fill="#fff" stroke="#141414" stroke-width="2.0" stroke-linejoin="miter"/>
<path d="M252.50 584.85L257.35 589.60L252.50 594.35L247.65 589.60Z" fill="#fff" stroke="#141414" stroke-width="2.0" stroke-linejoin="miter"/>
<path d="M263.10 589.65L267.95 594.40L263.10 599.15L258.25 594.40Z" fill="#fff" stroke="#141414" stroke-width="2.0" stroke-linejoin="miter"/>
<path d="M275.90 592.35L280.75 597.10L275.90 601.85L271.05 597.10Z" fill="#fff" stroke="#141414" stroke-width="2.0" stroke-linejoin="miter"/>
<path d="M290.50 599.55L295.35 604.30L290.50 609.05L285.65 604.30Z" fill="#fff" stroke="#141414" stroke-width="2.0" stroke-linejoin="miter"/>
<path d="M293.70 599.55L298.55 604.30L293.70 609.05L288.85 604.30Z" fill="#fff" stroke="#141414" stroke-width="2.0" stroke-linejoin="miter"/>
<path d="M311.20 599.55L316.05 604.30L311.20 609.05L306.35 604.30Z" fill="#fff" stroke="#141414" stroke-width="2.0" stroke-linejoin="miter"/>
<path d="M329.50 599.75L334.35 604.50L329.50 609.25L324.65 604.50Z" fill="#fff" stroke="#141414" stroke-width="2.0" stroke-linejoin="miter"/>
<path d="M343.60 606.45L348.45 611.20L343.60 615.95L338.75 611.20Z" fill="#fff" stroke="#141414" stroke-width="2.0" stroke-linejoin="miter"/>
<path d="M352.90 605.65L357.75 610.40L352.90 615.15L348.05 610.40Z" fill="#fff" stroke="#141414" stroke-width="2.0" stroke-linejoin="miter"/>
<path d="M370.70 601.15L375.55 605.90L370.70 610.65L365.85 605.90Z" fill="#fff" stroke="#141414" stroke-width="2.0" stroke-linejoin="miter"/>
<path d="M381.30 602.15L386.15 606.90L381.30 611.65L376.45 606.90Z" fill="#fff" stroke="#141414" stroke-width="2.0" stroke-linejoin="miter"/>
<path d="M393.50 601.65L398.35 606.40L393.50 611.15L388.65 606.40Z" fill="#fff" stroke="#141414" stroke-width="2.0" stroke-linejoin="miter"/>
<path d="M406.00 593.65L410.85 598.40L406.00 603.15L401.15 598.40Z" fill="#fff" stroke="#141414" stroke-width="2.0" stroke-linejoin="miter"/>
<path d="M422.50 598.45L427.35 603.20L422.50 607.95L417.65 603.20Z" fill="#fff" stroke="#141414" stroke-width="2.0" stroke-linejoin="miter"/>
<path d="M429.40 595.25L434.25 600.00L429.40 604.75L424.55 600.00Z" fill="#fff" stroke="#141414" stroke-width="2.0" stroke-linejoin="miter"/>
<path d="M443.70 600.35L448.55 605.10L443.70 609.85L438.85 605.10Z" fill="#fff" stroke="#141414" stroke-width="2.0" stroke-linejoin="miter"/>
<path d="M457.80 587.85L462.65 592.60L457.80 597.35L452.95 592.60Z" fill="#fff" stroke="#141414" stroke-width="2.0" stroke-linejoin="miter"/>
<path d="M471.10 576.45L475.95 581.20L471.10 585.95L466.25 581.20Z" fill="#fff" stroke="#141414" stroke-width="2.0" stroke-linejoin="miter"/>
<path d="M484.40 575.65L489.25 580.40L484.40 585.15L479.55 580.40Z" fill="#fff" stroke="#141414" stroke-width="2.0" stroke-linejoin="miter"/>
<path d="M496.30 585.75L501.15 590.50L496.30 595.25L491.45 590.50Z" fill="#fff" stroke="#141414" stroke-width="2.0" stroke-linejoin="miter"/>
<!-- panel 4 -->
<path d="M578.10 350.00V621.50" stroke="#222" stroke-width="1.4" fill="none"/>
<path d="M577.40 621.50H600.10M607.30 621.50H1019.60" stroke="#222" stroke-width="1.4" fill="none"/>
<path d="M596.50 627.50L604.30 616.00" stroke="#222" stroke-width="1.5" fill="none"/>
<path d="M604.10 627.50L611.90 616.00" stroke="#222" stroke-width="1.5" fill="none"/>
<path d="M572.30 611.40H578.10M572.30 576.90H578.10M572.30 542.40H578.10M572.30 507.90H578.10M572.30 473.40H578.10M572.30 438.90H578.10M572.30 404.40H578.10M572.30 369.90H578.10M574.90 594.15H578.10M574.90 559.65H578.10M574.90 525.15H578.10M574.90 490.65H578.10M574.90 456.15H578.10M574.90 421.65H578.10M574.90 387.15H578.10M574.90 352.65H578.10M589.40 621.50v5.6M608.03 621.50v3.2M612.70 621.50v3.2M616.65 621.50v3.2M620.08 621.50v3.2M623.10 621.50v3.2M625.80 621.50v5.6M643.57 621.50v3.2M653.97 621.50v3.2M661.35 621.50v3.2M667.07 621.50v3.2M671.74 621.50v3.2M675.69 621.50v3.2M679.12 621.50v3.2M682.14 621.50v3.2M684.84 621.50v5.6M702.61 621.50v3.2M713.01 621.50v3.2M720.39 621.50v3.2M726.11 621.50v3.2M730.78 621.50v3.2M734.73 621.50v3.2M738.16 621.50v3.2M741.18 621.50v3.2M743.88 621.50v5.6M761.65 621.50v3.2M772.05 621.50v3.2M779.43 621.50v3.2M785.15 621.50v3.2M789.82 621.50v3.2M793.77 621.50v3.2M797.20 621.50v3.2M800.22 621.50v3.2M802.92 621.50v5.6M820.69 621.50v3.2M831.09 621.50v3.2M838.47 621.50v3.2M844.19 621.50v3.2M848.86 621.50v3.2M852.81 621.50v3.2M856.24 621.50v3.2M859.26 621.50v3.2M861.96 621.50v5.6M879.73 621.50v3.2M890.13 621.50v3.2M897.51 621.50v3.2M903.23 621.50v3.2M907.90 621.50v3.2M911.85 621.50v3.2M915.28 621.50v3.2M918.30 621.50v3.2M921.00 621.50v5.6M938.77 621.50v3.2M949.17 621.50v3.2M956.55 621.50v3.2M962.27 621.50v3.2M966.94 621.50v3.2M970.89 621.50v3.2M974.32 621.50v3.2M977.34 621.50v3.2M980.04 621.50v5.6M997.81 621.50v3.2M1008.21 621.50v3.2M1015.59 621.50v3.2" stroke="#222" stroke-width="1.25" fill="none"/>
<text x="589.40" y="644.40" font-size="16.5" text-anchor="middle">0</text>
<text x="626.10" y="644.40" font-size="16.5" text-anchor="middle">0.001</text>
<text x="685.14" y="644.40" font-size="16.5" text-anchor="middle">0.01</text>
<text x="744.18" y="644.40" font-size="16.5" text-anchor="middle">0.1</text>
<text x="803.22" y="644.40" font-size="16.5" text-anchor="middle">1</text>
<text x="862.26" y="644.40" font-size="16.5" text-anchor="middle">10</text>
<text x="921.30" y="644.40" font-size="16.5" text-anchor="middle">100</text>
<text x="980.34" y="644.40" font-size="16.5" text-anchor="middle">1000</text>
<text x="568.00" y="616.20" font-size="16.5" text-anchor="end">0</text>
<text x="568.00" y="581.70" font-size="16.5" text-anchor="end">50</text>
<text x="568.00" y="547.20" font-size="16.5" text-anchor="end">100</text>
<text x="568.00" y="512.70" font-size="16.5" text-anchor="end">150</text>
<text x="568.00" y="478.20" font-size="16.5" text-anchor="end">200</text>
<text x="568.00" y="443.70" font-size="16.5" text-anchor="end">250</text>
<text x="568.00" y="409.20" font-size="16.5" text-anchor="end">300</text>
<text x="568.00" y="374.70" font-size="16.5" text-anchor="end">350</text>
<text x="529.60" y="497.00" font-size="17" text-anchor="middle" transform="rotate(-90 529.60 497.00)">Relative Error [%]</text>
<text x="798.00" y="675.60" font-size="17" text-anchor="middle">TATP [µg L<tspan font-size="10" dy="-8.6" letter-spacing="-0.6">-1</tspan><tspan dy="8.6" dx="0.8">]</tspan></text>
<path d="M620.25 354.50L625.10 359.25L620.25 364.00L615.40 359.25Z" fill="#fff" stroke="#141414" stroke-width="2.0" stroke-linejoin="miter"/>
<path d="M626.25 512.25L631.10 517.00L626.25 521.75L621.40 517.00Z" fill="#fff" stroke="#141414" stroke-width="2.0" stroke-linejoin="miter"/>
<path d="M644.00 571.00L648.85 575.75L644.00 580.50L639.15 575.75Z" fill="#fff" stroke="#141414" stroke-width="2.0" stroke-linejoin="miter"/>
<path d="M662.00 502.45L666.85 507.20L662.00 511.95L657.15 507.20Z" fill="#fff" stroke="#141414" stroke-width="2.0" stroke-linejoin="miter"/>
<path d="M672.00 504.50L676.85 509.25L672.00 514.00L667.15 509.25Z" fill="#fff" stroke="#141414" stroke-width="2.0" stroke-linejoin="miter"/>
<path d="M685.25 518.25L690.10 523.00L685.25 527.75L680.40 523.00Z" fill="#fff" stroke="#141414" stroke-width="2.0" stroke-linejoin="miter"/>
<path d="M702.75 514.00L707.60 518.75L702.75 523.50L697.90 518.75Z" fill="#fff" stroke="#141414" stroke-width="2.0" stroke-linejoin="miter"/>
<path d="M713.50 569.50L718.35 574.25L713.50 579.00L708.65 574.25Z" fill="#fff" stroke="#141414" stroke-width="2.0" stroke-linejoin="miter"/>
<path d="M720.75 561.00L725.60 565.75L720.75 570.50L715.90 565.75Z" fill="#fff" stroke="#141414" stroke-width="2.0" stroke-linejoin="miter"/>
<path d="M735.25 586.00L740.10 590.75L735.25 595.50L730.40 590.75Z" fill="#fff" stroke="#141414" stroke-width="2.0" stroke-linejoin="miter"/>
<path d="M744.00 587.75L748.85 592.50L744.00 597.25L739.15 592.50Z" fill="#fff" stroke="#141414" stroke-width="2.0" stroke-linejoin="miter"/>
<path d="M762.00 602.05L766.85 606.80L762.00 611.55L757.15 606.80Z" fill="#fff" stroke="#141414" stroke-width="2.0" stroke-linejoin="miter"/>
<path d="M772.50 579.05L777.35 583.80L772.50 588.55L767.65 583.80Z" fill="#fff" stroke="#141414" stroke-width="2.0" stroke-linejoin="miter"/>
<path d="M785.20 592.85L790.05 597.60L785.20 602.35L780.35 597.60Z" fill="#fff" stroke="#141414" stroke-width="2.0" stroke-linejoin="miter"/>
<path d="M800.30 587.55L805.15 592.30L800.30 597.05L795.45 592.30Z" fill="#fff" stroke="#141414" stroke-width="2.0" stroke-linejoin="miter"/>
<path d="M803.00 605.65L807.85 610.40L803.00 615.15L798.15 610.40Z" fill="#fff" stroke="#141414" stroke-width="2.0" stroke-linejoin="miter"/>
<path d="M838.60 582.55L843.45 587.30L838.60 592.05L833.75 587.30Z" fill="#fff" stroke="#141414" stroke-width="2.0" stroke-linejoin="miter"/>
<path d="M852.90 597.95L857.75 602.70L852.90 607.45L848.05 602.70Z" fill="#fff" stroke="#141414" stroke-width="2.0" stroke-linejoin="miter"/>
<path d="M862.20 599.55L867.05 604.30L862.20 609.05L857.35 604.30Z" fill="#fff" stroke="#141414" stroke-width="2.0" stroke-linejoin="miter"/>
<path d="M880.00 603.75L884.85 608.50L880.00 613.25L875.15 608.50Z" fill="#fff" stroke="#141414" stroke-width="2.0" stroke-linejoin="miter"/>
<path d="M890.10 602.45L894.95 607.20L890.10 611.95L885.25 607.20Z" fill="#fff" stroke="#141414" stroke-width="2.0" stroke-linejoin="miter"/>
<path d="M903.40 601.65L908.25 606.40L903.40 611.15L898.55 606.40Z" fill="#fff" stroke="#141414" stroke-width="2.0" stroke-linejoin="miter"/>
<path d="M915.30 605.65L920.15 610.40L915.30 615.15L910.45 610.40Z" fill="#fff" stroke="#141414" stroke-width="2.0" stroke-linejoin="miter"/>
<path d="M931.80 599.55L936.65 604.30L931.80 609.05L926.95 604.30Z" fill="#fff" stroke="#141414" stroke-width="2.0" stroke-linejoin="miter"/>
<path d="M938.70 600.35L943.55 605.10L938.70 609.85L933.85 605.10Z" fill="#fff" stroke="#141414" stroke-width="2.0" stroke-linejoin="miter"/>
<path d="M953.10 600.05L957.95 604.80L953.10 609.55L948.25 604.80Z" fill="#fff" stroke="#141414" stroke-width="2.0" stroke-linejoin="miter"/>
<path d="M967.10 592.35L971.95 597.10L967.10 601.85L962.25 597.10Z" fill="#fff" stroke="#141414" stroke-width="2.0" stroke-linejoin="miter"/>
<path d="M979.90 598.95L984.75 603.70L979.90 608.45L975.05 603.70Z" fill="#fff" stroke="#141414" stroke-width="2.0" stroke-linejoin="miter"/>
<path d="M993.20 591.55L998.05 596.30L993.20 601.05L988.35 596.30Z" fill="#fff" stroke="#141414" stroke-width="2.0" stroke-linejoin="miter"/>
<path d="M1005.70 574.55L1010.55 579.30L1005.70 584.05L1000.85 579.30Z" fill="#fff" stroke="#141414" stroke-width="2.0" stroke-linejoin="miter"/>
<rect x="817.0" y="603.1" width="7.6" height="7.6" fill="#111"/>
</g>
</svg>
</body></html>
